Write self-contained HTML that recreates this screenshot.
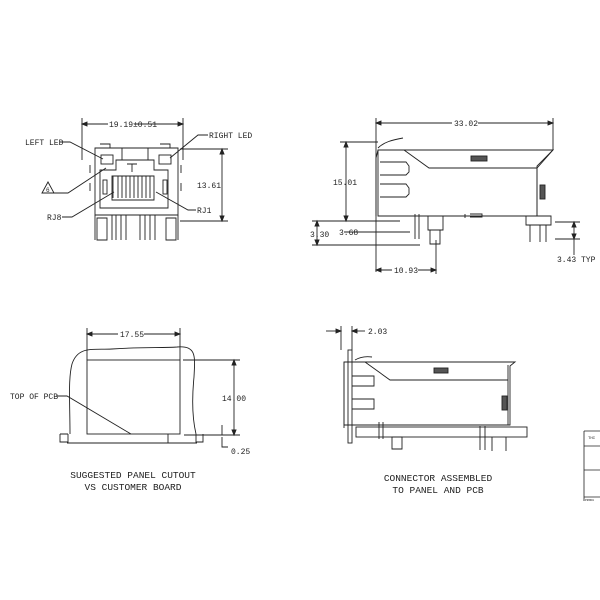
<!DOCTYPE html>
<html><head><style>body{margin:0;background:#fff}svg{display:block}text{font-family:"Liberation Mono","DejaVu Sans Mono",monospace;fill:#222}</style></head><body>
<svg width="600" height="600" viewBox="0 0 600 600" fill="none" stroke="#222" stroke-width="0.9">
<!-- FRONT VIEW -->
<g>
<line x1="82" y1="124" x2="183" y2="124"/><line x1="82" y1="118" x2="82" y2="160"/><line x1="183" y1="118" x2="183" y2="160"/>
<path d="M82 124l5-2v4z M183 124l-5-2v4z" fill="#222"/>
<rect x="108" y="119" width="26" height="10" fill="#fff" stroke="none"/>
<text x="109" y="127" font-size="8" stroke="none">19.19±0.51</text>
<path d="M95 148h83v67h-83z"/>
<path d="M100 144h10v4 M160 144h10v4"/>
<rect x="101" y="155" width="12" height="9"/><rect x="159" y="155" width="12" height="9"/>
<path d="M122 148v12 M148 148v12"/>
<path d="M100 170h16v-10h38v10h14v38h-68z"/>
<path d="M112 176h42v24h-42z"/>
<path d="M113 176v22 M118 176v22 M122 176v22 M126 176v22 M130 176v22 M134 176v22 M138 176v22 M142 176v22 M146 176v22 M150 176v22"/>
<rect x="103" y="180" width="4" height="14"/><rect x="163" y="180" width="4" height="14"/>
<path d="M127 164h10 M132 164v8"/>
<path d="M90 165v8 M90 183v8 M181 165v8 M181 183v8"/>
<path d="M95 215v25 M178 215v25 M97 218h10v22h-10z M166 218h10v22h-10z M112 215v25 M116 215v25 M121 215v25 M126 215v25 M140 215v25 M145 215v25 M150 215v25 M155 215v25"/>
<line x1="180" y1="149" x2="228" y2="149"/><line x1="180" y1="221" x2="228" y2="221"/>
<line x1="222" y1="149" x2="222" y2="221"/>
<path d="M222 149l-2 5h4z M222 221l-2-5h4z" fill="#222"/>
<text x="197" y="188" font-size="8" stroke="none">13.61</text>
<text x="25" y="145" font-size="8" stroke="none">LEFT LED</text>
<path d="M60 142h10l33 17"/>
<text x="209" y="138" font-size="8" stroke="none">RIGHT LED</text>
<path d="M208 135h-10l-28 23"/>
<path d="M42 193l6-11 6 11z"/><text x="46" y="192" font-size="6" stroke="none">6</text>
<path d="M54 193h14l38-25"/>
<text x="47" y="220" font-size="8" stroke="none">RJ8</text>
<path d="M62 217h10l42-25"/>
<text x="197" y="213" font-size="8" stroke="none">RJ1</text>
<path d="M196 210h-8l-32-18"/>
</g>
<!-- SIDE VIEW -->
<g>
<line x1="376" y1="123" x2="553" y2="123"/><line x1="376" y1="118" x2="376" y2="272"/><line x1="553" y1="118" x2="553" y2="150"/>
<path d="M376 123l5-2v4z M553 123l-5-2v4z" fill="#222"/>
<rect x="452" y="118" width="26" height="10" fill="#fff" stroke="none"/>
<text x="454" y="126" font-size="8" stroke="none">33.02</text>
<path d="M378 150h175l-16 16v50h-159z" />
<path d="M378 150l-2 8v58 M404 150l25 18h108l16-18 M537 168v48"/>
<path d="M378 148c6-6 14-8 25-10"/>
<rect x="471" y="156" width="16" height="5" fill="#555"/>
<rect x="540" y="185" width="5" height="14" fill="#555"/>
<path d="M380 162h26l3 4v6l-3 3h-26 M380 184h26l3 4v6l-3 3h-26"/>
<path d="M526 216h25v9h-25z M530 225v17 M540 225v17 M546 225v17"/>
<path d="M415 214v25 M419 214v25 M428 216h15v14h-15z M430 230h10v14h-10z M465 214v4 M470 214h12v3h-12"/>
<line x1="340" y1="142" x2="378" y2="142" /><line x1="346" y1="142" x2="346" y2="221"/>
<path d="M346 142l-2 5h4z M346 221l-2-5h4z" fill="#222"/>
<text x="333" y="185" font-size="8" stroke="none">15.01</text>
<line x1="312" y1="221" x2="400" y2="221"/><line x1="312" y1="245" x2="420" y2="245"/>
<line x1="344" y1="232" x2="410" y2="232"/>
<line x1="317" y1="221" x2="317" y2="245"/>
<path d="M317 221l-2 5h4z M317 245l-2-5h4z" fill="#222"/>
<text x="310" y="237" font-size="8" stroke="none">3.30</text>
<text x="339" y="235" font-size="8" stroke="none">3.68</text>
<line x1="436" y1="240" x2="436" y2="274"/>
<line x1="376" y1="270" x2="436" y2="270"/>
<path d="M376 270l5-2v4z M436 270l-5-2v4z" fill="#222"/>
<rect x="392" y="265" width="26" height="10" fill="#fff" stroke="none"/>
<text x="394" y="273" font-size="8" stroke="none">10.93</text>
<line x1="555" y1="222" x2="580" y2="222"/><line x1="555" y1="239" x2="580" y2="239"/>
<line x1="574" y1="222" x2="574" y2="255"/>
<path d="M574 222l-2 5h4z M574 239l-2-5h4z" fill="#222"/>
<text x="557" y="262" font-size="8" stroke="none">3.43 TYP</text>
</g>
<!-- PANEL CUTOUT -->
<g>
<line x1="87" y1="334" x2="180" y2="334"/><line x1="87" y1="328" x2="87" y2="360"/><line x1="180" y1="328" x2="180" y2="360"/>
<path d="M87 334l5-2v4z M180 334l-5-2v4z" fill="#222"/>
<rect x="118" y="329" width="26" height="10" fill="#fff" stroke="none"/>
<text x="120" y="337" font-size="8" stroke="none">17.55</text>
<path d="M70 434c0-30 -2-55 2-70c6-18 20-14 40-15c30-2 50 -1 65-2c20-2 18 10 17 30c-2 20 -2 40 2 57"/>
<rect x="87" y="360" width="93" height="74"/>
<path d="M60 434h8 M68 434v9h100v-9 M60 434v8h8 M196 434v8h7v-8"/>
<path d="M67 443h130"/>
<line x1="183" y1="360" x2="240" y2="360"/><line x1="184" y1="435" x2="240" y2="435"/>
<line x1="234" y1="360" x2="234" y2="435"/>
<path d="M234 360l-2 5h4z M234 435l-2-5h4z" fill="#222"/>
<text x="222" y="401" font-size="8" stroke="none">14.00</text>
<path d="M222 425v10 M222 437v10h6"/>
<text x="231" y="454" font-size="8" stroke="none">0.25</text>
<text x="10" y="399" font-size="8" stroke="none">TOP OF PCB</text>
<path d="M57 396h10l64 38"/>
<text x="133" y="478" font-size="9.5" text-anchor="middle" stroke="none">SUGGESTED PANEL CUTOUT</text>
<text x="133" y="490" font-size="9.5" text-anchor="middle" stroke="none">VS CUSTOMER BOARD</text>
</g>
<!-- ASSEMBLED -->
<g>
<line x1="326" y1="331" x2="341" y2="331"/><line x1="352" y1="331" x2="365" y2="331"/>
<line x1="341" y1="326" x2="341" y2="350"/><line x1="352" y1="326" x2="352" y2="350"/>
<path d="M341 331l-5-2v4z M352 331l5-2v4z" fill="#222"/>
<text x="368" y="334" font-size="8" stroke="none">2.03</text>
<rect x="348" y="350" width="4" height="93"/>
<path d="M344 362h171l-5 4v59h-166z"/>
<path d="M344 362v66 M365 362l25 18h118v-15 M508 380v45"/>
<path d="M355 360c5-3 10-4 17-3"/>
<rect x="434" y="368" width="14" height="5" fill="#555"/>
<rect x="502" y="396" width="5" height="14" fill="#555"/>
<path d="M352 376h22v10h-22 M352 399h22v10h-22"/>
<rect x="356" y="427" width="171" height="10"/>
<path d="M379 422v17 M383 422v17 M392 437h10v12h-10z M480 426v24 M492 437v14 M506 437v14 M485 426v24"/>
<text x="438" y="481" font-size="9.5" text-anchor="middle" stroke="none">CONNECTOR ASSEMBLED</text>
<text x="438" y="493" font-size="9.5" text-anchor="middle" stroke="none">TO PANEL AND PCB</text>
</g>
<!-- TITLE BLOCK fragment -->
<g stroke-width="0.8">
<path d="M584 431h16 M584 431v70 M584 446h16 M584 470h16 M584 497h16"/>
<text x="588" y="439" font-size="4" stroke="none">THI</text>
<text x="585" y="501" font-size="3" stroke="none">PRODU</text>
</g>
</svg>
</body></html>
